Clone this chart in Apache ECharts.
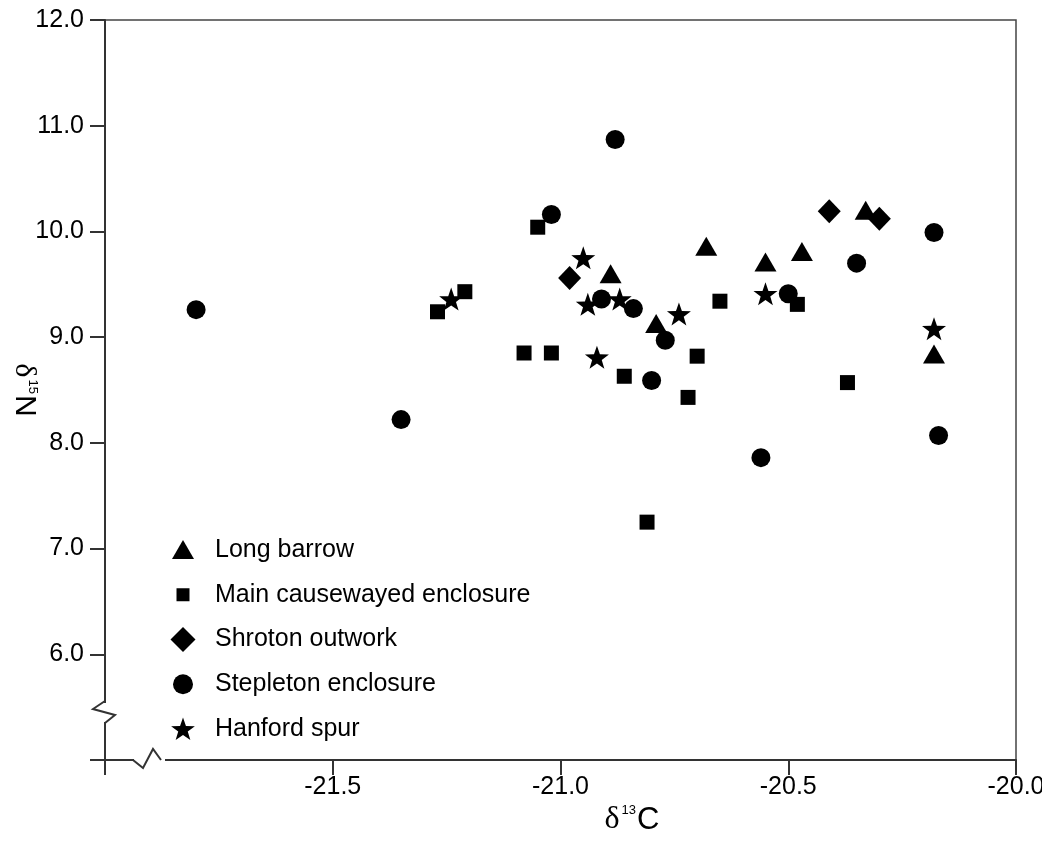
<!DOCTYPE html>
<html>
<head>
<meta charset="utf-8">
<script src="https://cdn.jsdelivr.net/npm/echarts@6/dist/echarts.min.js"></script>
<style>
html,body{margin:0;padding:0;background:#fff;}
#chart{width:1042px;height:841px;}
</style>
</head>
<body>
<div id="chart"></div>
<script>
// ---- data (δ13C, δ15N) ----
const seriesNames = ['Long barrow', 'Main causewayed enclosure', 'Shroton outwork', 'Stepleton enclosure', 'Hanford spur'];
const longBarrow = [[-20.89,9.60],[-20.79,9.13],[-20.68,9.86],[-20.55,9.71],[-20.47,9.81],[-20.33,10.20],[-20.18,8.84]];
const mainCauseway = [[-21.27,9.24],[-21.21,9.43],[-21.08,8.85],[-21.05,10.04],[-21.02,8.85],[-20.86,8.63],[-20.81,7.25],[-20.72,8.43],[-20.70,8.82],[-20.65,9.34],[-20.48,9.31],[-20.37,8.57]];
const shroton = [[-20.98,9.56],[-20.41,10.19],[-20.30,10.12]];
const stepleton = [[-21.80,9.26],[-21.35,8.22],[-21.02,10.16],[-20.88,10.87],[-20.91,9.36],[-20.84,9.27],[-20.77,8.97],[-20.80,8.59],[-20.56,7.86],[-20.50,9.41],[-20.35,9.70],[-20.18,9.99],[-20.17,8.07]];
const hanford = [[-21.24,9.36],[-20.95,9.75],[-20.94,9.31],[-20.87,9.36],[-20.92,8.81],[-20.74,9.22],[-20.55,9.41],[-20.18,9.08]];
const xTicks = [-22.0, -21.5, -21.0, -20.5, -20.0];
const yTicks = [5, 6, 7, 8, 9, 10, 11, 12];

const FONT = 'Liberation Sans, Arial, sans-serif';
const INK = '#000';
const TXT = '#000';
const starPath = 'path://M13 1L15.94 9.46L24.89 9.64L17.76 15.05L20.35 23.61L13 18.5L5.65 23.61L8.24 15.05L1.11 9.64L10.06 9.46Z';
const pad = 'M0 0M26 26';
const legendIcons = {
  'Long barrow': 'path://' + pad + 'M2 22L13 3L24 22Z',
  'Main causewayed enclosure': 'path://' + pad + 'M6.5 6.5H19.5V19.5H6.5Z',
  'Shroton outwork': 'path://' + pad + 'M13 0.5L25.5 13L13 25.5L0.5 13Z',
  'Stepleton enclosure': 'path://' + pad + 'M3 13A10 10 0 1 0 23 13A10 10 0 1 0 3 13Z',
  'Hanford spur': 'path://' + pad + 'M13 1.5L15.94 9.96L24.89 10.14L17.76 15.55L20.35 24.11L13 19L5.65 24.11L8.24 15.55L1.11 10.14L10.06 9.96Z'
};

const chart = echarts.init(document.getElementById('chart'), null, {renderer: 'canvas'});
const axisLineStyle = {color: '#333', width: 2};

function mk(name, data, symbol, size) {
  return {
    name: name, type: 'scatter', data: data, symbol: symbol, symbolSize: size,
    itemStyle: {color: INK, opacity: 1}, emphasis: {disabled: true}
  };
}

const option = {
  animation: false,
  backgroundColor: '#fff',
  grid: {left: 105, top: 20, width: 911, height: 740, containLabel: false, outerBoundsMode: 'none',
    show: true, borderColor: '#444', borderWidth: 1.5, backgroundColor: 'transparent'},
  xAxis: {
    type: 'value', min: xTicks[0], max: xTicks[xTicks.length - 1], interval: 0.5,
    axisLine: {show: true, onZero: false, lineStyle: axisLineStyle},
    axisTick: {show: true, inside: false, length: 15, lineStyle: axisLineStyle},
    splitLine: {show: false},
    axisLabel: {fontSize: 25, color: TXT, fontFamily: FONT, margin: 15, hideOverlap: false,
      formatter: v => (Math.abs(v - xTicks[0]) < 1e-9 ? '' : v.toFixed(1))},
    name: '{d|δ}{s|13}{c|C}', nameLocation: 'middle', nameGap: 44, nameMoveOverlap: false,
    nameTextStyle: {padding: [0, 0, 0, 143], rich: {
      d: {fontSize: 32, fontFamily: 'Liberation Serif, serif', color: TXT},
      s: {fontSize: 13, fontFamily: FONT, color: TXT, verticalAlign: 'top', padding: [0, 1, 0, 2]},
      c: {fontSize: 31, fontFamily: FONT, color: TXT}
    }}
  },
  yAxis: {
    type: 'value', min: yTicks[0], max: yTicks[yTicks.length - 1], interval: 1,
    axisLine: {show: true, onZero: false, lineStyle: axisLineStyle},
    axisTick: {show: true, inside: false, length: 15, lineStyle: axisLineStyle},
    splitLine: {show: false},
    axisLabel: {fontSize: 25, color: TXT, fontFamily: FONT, margin: 21, hideOverlap: false,
      formatter: v => (Math.abs(v - yTicks[0]) < 1e-9 ? '' : v.toFixed(1))},
    name: '{d|δ}{s|15}{c|N}', nameLocation: 'middle', nameGap: 66, nameRotate: -90, nameMoveOverlap: false,
    nameTextStyle: {rich: {
      d: {fontSize: 30, fontFamily: 'Liberation Serif, serif', color: TXT},
      s: {fontSize: 13, fontFamily: FONT, color: TXT, verticalAlign: 'top', padding: [0, 1, 0, 2]},
      c: {fontSize: 30, fontFamily: FONT, color: TXT}
    }}
  },
  legend: {
    orient: 'vertical', left: 165, top: 532, itemWidth: 26, itemHeight: 26, itemGap: 18.75,
    selectedMode: false,
    textStyle: {fontSize: 25, color: TXT, fontFamily: FONT, padding: [0, 0, 0, 14]},
    data: seriesNames.map(n => ({name: n, icon: legendIcons[n]}))
  },
  series: [
    mk(seriesNames[0], longBarrow, 'triangle', [22, 19]),
    mk(seriesNames[1], mainCauseway, 'rect', 15),
    mk(seriesNames[2], shroton, 'diamond', [23, 24]),
    mk(seriesNames[3], stepleton, 'circle', 19),
    mk(seriesNames[4], hanford, starPath, [24, 23])
  ]
};
chart.setOption(option);

// axis-break zigzag marks (decoration on the axis lines)
const o = chart.convertToPixel({gridIndex: 0}, [xTicks[0], yTicks[0]]);
const ox = o[0], oy = o[1];
chart.setOption({
  graphic: [
    {type: 'rect', z: 100, shape: {x: ox - 4, y: oy - 57, width: 8, height: 19}, style: {fill: '#fff'}},
    {type: 'polyline', z: 101, shape: {points: [[ox, oy - 59], [ox - 12, oy - 51], [ox + 10, oy - 45], [ox, oy - 37]]}, style: {stroke: '#333', lineWidth: 2, fill: null}},
    {type: 'rect', z: 100, shape: {x: ox + 29, y: oy - 4, width: 31, height: 8}, style: {fill: '#fff'}},
    {type: 'polyline', z: 101, shape: {points: [[ox + 28, oy], [ox + 38, oy + 8], [ox + 48, oy - 11], [ox + 56, oy]]}, style: {stroke: '#333', lineWidth: 2, fill: null}}
  ]
});
</script>
</body>
</html>
